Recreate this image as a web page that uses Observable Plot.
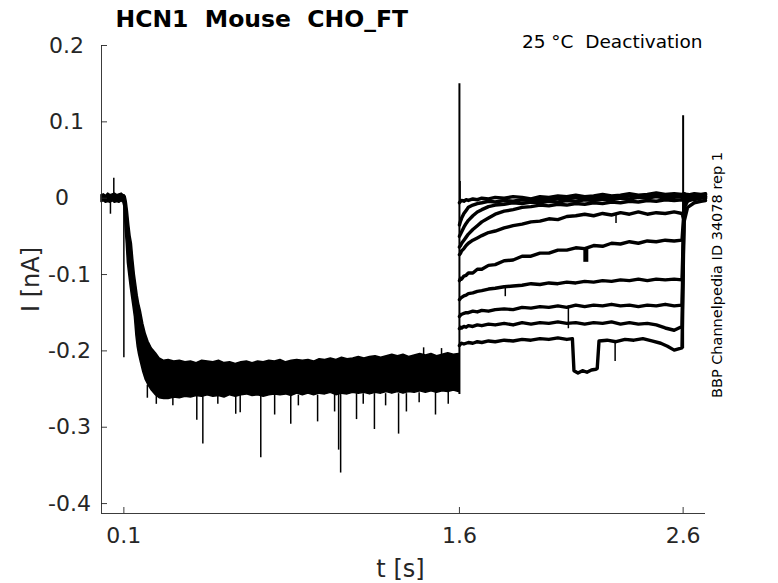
<!DOCTYPE html>
<html><head><meta charset="utf-8">
<script src="https://cdn.jsdelivr.net/npm/d3@7"></script>
<script src="https://cdn.jsdelivr.net/npm/@observablehq/plot@0.6"></script>
<style>body{margin:0;background:#fff}</style>
</head><body><div id="chart"></div>
<script>
// ---------- text ----------
const titleText = "HCN1  Mouse  CHO_FT";
const conditionText = "25 °C  Deactivation";
const idText = "BBP Channelpedia ID 34078 rep 1";
const xLabel = "t [s]";
const yLabel = "I [nA]";

// ---------- axes ----------
const xDomain = [0, 2.7];
const yDomain = [-0.413, 0.2];
const xTicks = [0.1, 1.6, 2.6];
const xTickLabels = ["0.1", "1.6", "2.6"];
const yTicks = [0.2, 0.1, 0, -0.1, -0.2, -0.3, -0.4];
const yTickLabels = ["0.2", "0.1", "0", "-0.1", "-0.2", "-0.3", "-0.4"];

// ---------- pre-pulse (all sweeps overlapping): envelope of the traces ----------
const prepT = [0.000,0.010,0.020,0.030,0.040,0.050,0.060,0.070,0.080,0.090,0.098,0.103,0.108,0.113,0.118,0.124,0.130,0.136,0.142,0.149,0.156,0.162,0.168,0.176,0.187,0.198,0.210,0.225,0.243,0.260,0.280,
  0.30,0.325,0.35,0.375,0.40,0.425,0.45,0.475,0.50,0.525,0.55,0.575,0.60,0.625,0.65,0.675,0.70,0.725,0.75,0.775,0.80,0.825,0.85,0.875,0.90,0.925,0.95,0.975,1.00,1.025,1.05,1.075,1.10,1.125,1.15,1.175,1.20,1.225,1.25,1.275,1.30,1.325,1.35,1.375,1.40,1.425,1.45,1.475,1.50,1.525,1.55,1.575,1.598];
const prepHi = [0.004,0.005,0.003,0.006,0.004,0.005,0.006,0.004,0.005,0.006,0.004,0.004,0.002,-0.005,-0.017,-0.035,-0.050,-0.060,-0.080,-0.100,-0.115,-0.128,-0.138,-0.148,-0.165,-0.178,-0.188,-0.197,-0.203,-0.210,-0.213,
  -0.212,-0.214,-0.213,-0.215,-0.214,-0.216,-0.213,-0.214,-0.215,-0.213,-0.216,-0.215,-0.217,-0.215,-0.214,-0.216,-0.214,-0.215,-0.213,-0.214,-0.212,-0.215,-0.213,-0.212,-0.213,-0.212,-0.214,-0.211,-0.212,-0.210,-0.212,-0.209,-0.211,-0.210,-0.208,-0.210,-0.208,-0.207,-0.209,-0.207,-0.205,-0.207,-0.205,-0.208,-0.206,-0.204,-0.206,-0.204,-0.207,-0.205,-0.203,-0.205,-0.204];
const prepLo = [-0.005,-0.004,-0.006,-0.005,-0.006,-0.004,-0.006,-0.005,-0.006,-0.004,-0.006,-0.012,-0.040,-0.060,-0.085,-0.100,-0.115,-0.128,-0.140,-0.155,-0.180,-0.195,-0.205,-0.215,-0.228,-0.238,-0.245,-0.252,-0.258,-0.262,-0.263,
  -0.263,-0.261,-0.262,-0.260,-0.261,-0.259,-0.260,-0.258,-0.260,-0.259,-0.261,-0.258,-0.260,-0.258,-0.257,-0.259,-0.258,-0.260,-0.258,-0.257,-0.258,-0.257,-0.259,-0.256,-0.258,-0.256,-0.258,-0.256,-0.257,-0.255,-0.258,-0.256,-0.257,-0.255,-0.256,-0.255,-0.257,-0.255,-0.256,-0.254,-0.256,-0.254,-0.256,-0.254,-0.255,-0.253,-0.255,-0.253,-0.255,-0.253,-0.254,-0.252,-0.254];

// ---------- deactivation sweeps ----------
const postT = [1.600,1.605,1.61,1.62,1.63,1.64,1.66,1.68,1.70,1.73,1.76,1.80,1.84,1.88,1.92,1.96,2.00,2.04,2.08,2.12,2.16,2.20,2.24,2.28,2.32,2.36,2.40,2.44,2.48,2.52,2.56,2.595,2.605,2.62,2.65,2.68,2.70];
const sweepA1 = [-0.006,-0.004,-0.003,-0.004,-0.002,-0.003,-0.001,-0.002,0.000,-0.001,0.001,0.000,0.002,0.001,-0.001,0.002,0.001,0.003,0.002,0.004,0.002,0.003,0.005,0.003,0.004,0.006,0.004,0.005,0.007,0.005,0.006,0.005,0.006,0.004,0.006,0.005,0.006];
const sweepA2 = [-0.035,-0.030,-0.026,-0.020,-0.016,-0.012,-0.009,-0.007,-0.006,-0.004,-0.005,-0.003,-0.004,-0.002,-0.003,-0.001,-0.002,0.000,-0.001,0.001,-0.001,0.000,0.002,0.000,0.001,0.003,0.001,0.002,0.004,0.002,0.003,0.004,0.003,0.005,0.003,0.004,0.005];
const sweepA3 = [-0.050,-0.047,-0.044,-0.038,-0.033,-0.029,-0.023,-0.018,-0.015,-0.011,-0.009,-0.008,-0.006,-0.007,-0.005,-0.006,-0.004,-0.005,-0.003,-0.004,-0.002,-0.003,-0.001,-0.002,0.000,-0.001,0.001,0.000,0.002,0.000,0.001,0.002,0.000,0.003,0.001,0.003,0.002];
const sweepA4 = [-0.064,-0.062,-0.059,-0.055,-0.051,-0.047,-0.041,-0.036,-0.031,-0.026,-0.021,-0.017,-0.015,-0.012,-0.011,-0.009,-0.010,-0.008,-0.009,-0.007,-0.008,-0.006,-0.007,-0.005,-0.006,-0.004,-0.005,-0.003,-0.004,-0.002,-0.003,-0.002,-0.004,0.000,-0.002,0.001,0.000];
const sweepB = [-0.074,-0.072,-0.069,-0.066,-0.062,-0.059,-0.055,-0.052,-0.049,-0.045,-0.043,-0.039,-0.036,-0.034,-0.031,-0.030,-0.027,-0.028,-0.024,-0.023,-0.021,-0.023,-0.020,-0.022,-0.019,-0.021,-0.018,-0.021,-0.019,-0.020,-0.018,-0.020,-0.030,-0.012,-0.006,-0.004,-0.003];
const sweepC = [-0.108,-0.105,-0.106,-0.102,-0.101,-0.098,-0.098,-0.093,-0.093,-0.088,-0.087,-0.082,-0.081,-0.076,-0.076,-0.072,-0.072,-0.068,-0.068,-0.065,-0.066,-0.062,-0.063,-0.059,-0.060,-0.057,-0.059,-0.056,-0.057,-0.055,-0.056,-0.055,-0.012,-0.004,-0.001,0.000,0.001];
const sweepD = [-0.133,-0.131,-0.130,-0.128,-0.127,-0.125,-0.124,-0.122,-0.121,-0.119,-0.118,-0.116,-0.115,-0.114,-0.112,-0.113,-0.111,-0.112,-0.110,-0.111,-0.109,-0.110,-0.108,-0.109,-0.107,-0.108,-0.106,-0.108,-0.106,-0.107,-0.106,-0.107,-0.008,-0.002,0.001,0.002,0.000];
const sweepE = [-0.155,-0.153,-0.152,-0.151,-0.150,-0.150,-0.148,-0.149,-0.147,-0.148,-0.146,-0.145,-0.146,-0.143,-0.144,-0.142,-0.143,-0.141,-0.143,-0.140,-0.142,-0.140,-0.141,-0.139,-0.141,-0.140,-0.142,-0.140,-0.141,-0.139,-0.141,-0.140,-0.006,0.000,0.003,0.001,0.003];
const sweepF = [-0.171,-0.169,-0.170,-0.168,-0.169,-0.167,-0.168,-0.166,-0.167,-0.165,-0.166,-0.164,-0.166,-0.163,-0.165,-0.163,-0.164,-0.162,-0.164,-0.163,-0.165,-0.163,-0.164,-0.162,-0.165,-0.163,-0.165,-0.164,-0.166,-0.170,-0.173,-0.168,-0.005,0.002,0.004,0.003,0.005];
const sweepGT = [1.600,1.605,1.61,1.62,1.64,1.66,1.68,1.70,1.73,1.76,1.80,1.84,1.88,1.92,1.96,2.00,2.04,2.08,2.105,2.112,2.13,2.15,2.17,2.19,2.21,2.216,2.224,2.26,2.30,2.34,2.38,2.42,2.46,2.50,2.53,2.56,2.595,2.605,2.62,2.65,2.68,2.70];
const sweepG = [-0.193,-0.191,-0.190,-0.191,-0.189,-0.190,-0.188,-0.189,-0.187,-0.188,-0.186,-0.187,-0.185,-0.186,-0.184,-0.185,-0.183,-0.185,-0.184,-0.226,-0.229,-0.226,-0.228,-0.225,-0.224,-0.223,-0.187,-0.186,-0.188,-0.185,-0.186,-0.184,-0.187,-0.190,-0.194,-0.199,-0.196,-0.010,-0.003,0.002,0.004,0.002];

// ---------- brief noise spikes / capacitive transients ----------
const spikeT    = [0.040, 0.055, 0.100, 0.205, 0.245, 0.319, 0.426, 0.453, 0.520, 0.600, 0.620, 0.712, 0.774, 0.846, 0.880, 0.966, 1.042, 1.060, 1.069, 1.140, 1.170, 1.220, 1.270, 1.328, 1.363, 1.420, 1.440, 1.493, 1.520, 1.550, 1.603, 1.805, 2.087, 2.296, 2.300];
const spikeFrom = [0.000, 0.003,-0.004,-0.245,-0.258,-0.258,-0.258,-0.258,-0.258,-0.258,-0.258,-0.258,-0.258,-0.258,-0.258,-0.258,-0.256,-0.256,-0.256,-0.256,-0.256,-0.256,-0.256,-0.256,-0.256,-0.255,-0.207,-0.254,-0.205,-0.254,-0.004,-0.116,-0.141,-0.188,-0.020];
const spikeTo   = [-0.021,0.026,-0.209,-0.262,-0.270,-0.272,-0.291,-0.322,-0.270,-0.283,-0.281,-0.340,-0.284,-0.296,-0.272,-0.293,-0.280,-0.330,-0.360,-0.290,-0.270,-0.303,-0.272,-0.309,-0.280,-0.268,-0.196,-0.284,-0.197,-0.270,0.022,-0.129,-0.171,-0.214,-0.033];
const transientT    = [1.600, 2.600];
const transientFrom = [-0.257, -0.197];
const transientTo   = [0.150, 0.108];
const dipT = [2.165];
const dipFrom = [-0.066];
const dipTo = [-0.084];

// ---------- build tables ----------
const prep = prepT.map((t, i) => ({t, hi: prepHi[i], lo: prepLo[i]}));
const sweeps = [
  ["A1", postT, sweepA1], ["A2", postT, sweepA2], ["A3", postT, sweepA3], ["A4", postT, sweepA4],
  ["B", postT, sweepB], ["C", postT, sweepC], ["D", postT, sweepD], ["E", postT, sweepE],
  ["F", postT, sweepF], ["G", sweepGT, sweepG]
];
const post = sweeps.flatMap(([name, ts, vs]) => ts.map((t, i) => ({sweep: name, t, v: vs[i]})));
const spikes = spikeT.map((t, i) => ({t, a: spikeFrom[i], b: spikeTo[i]}));
const transients = transientT.map((t, i) => ({t, a: transientFrom[i], b: transientTo[i]}));
const dips = dipT.map((t, i) => ({t, a: dipFrom[i], b: dipTo[i]}));

const W = 778, H = 583, mL = 101, mR = 73, mT = 45, mB = 70;
const tickPx = 6;
const xTickLen = tickPx * (xDomain[1] - xDomain[0]) / (W - mL - mR);
const yTickLen = tickPx * (yDomain[1] - yDomain[0]) / (H - mT - mB);
const axisColor = "#262626";

const chart = Plot.plot({
  width: W, height: H,
  marginLeft: mL, marginRight: mR, marginTop: mT, marginBottom: mB,
  x: {domain: xDomain, axis: null},
  y: {domain: yDomain, axis: null},
  style: {fontFamily: "DejaVu Sans", background: "white", overflow: "visible"},
  marks: [
    // traces
    Plot.areaY(prep, {x: "t", y1: "lo", y2: "hi", fill: "black", stroke: "black", strokeWidth: 1.5}),
    Plot.line(post, {x: "t", y: "v", z: "sweep", stroke: "black", strokeWidth: 3.4, strokeLinejoin: "round"}),
    Plot.ruleX(spikes, {x: "t", y1: "a", y2: "b", stroke: "black", strokeWidth: 1.5}),
    Plot.ruleX(transients, {x: "t", y1: "a", y2: "b", stroke: "black", strokeWidth: 2}),
    Plot.ruleX(dips, {x: "t", y1: "a", y2: "b", stroke: "black", strokeWidth: 5}),
    // axis lines
    Plot.ruleX([xDomain[0]], {y1: yDomain[0], y2: yDomain[1], stroke: axisColor, strokeWidth: 0.9}),
    Plot.ruleY([yDomain[0]], {x1: xDomain[0], x2: xDomain[1], stroke: axisColor, strokeWidth: 0.9}),
    // inward ticks
    Plot.ruleY(yTicks, {y: d => d, x1: xDomain[0], x2: xDomain[0] + xTickLen, stroke: axisColor, strokeWidth: 0.9}),
    Plot.ruleX(xTicks, {x: d => d, y1: yDomain[0], y2: yDomain[0] + yTickLen, stroke: axisColor, strokeWidth: 0.9}),
    // tick labels
    Plot.text(yTicks, {filter: d => d > 0, x: xDomain[0], y: d => d, text: d => yTickLabels[yTicks.indexOf(d)], dx: -35, textAnchor: "middle", lineAnchor: "middle", fontSize: 22, fill: axisColor}),
    Plot.text(yTicks, {filter: d => d === 0, x: xDomain[0], y: d => d, text: d => yTickLabels[yTicks.indexOf(d)], dx: -39.5, textAnchor: "middle", lineAnchor: "middle", fontSize: 22, fill: axisColor}),
    Plot.text(yTicks, {filter: d => d < 0, x: xDomain[0], y: d => d, text: d => yTickLabels[yTicks.indexOf(d)], dx: -32, textAnchor: "middle", lineAnchor: "middle", fontSize: 22, fill: axisColor}),
    Plot.text(xTicks, {x: d => d, y: yDomain[0], text: d => xTickLabels[xTicks.indexOf(d)], dy: 29, textAnchor: "middle", lineAnchor: "bottom", fontSize: 22, fill: axisColor}),
    // axis labels
    Plot.text([xLabel], {frameAnchor: "bottom", text: d => d, dx: -3, dy: 63, textAnchor: "middle", lineAnchor: "bottom", fontSize: 24, fill: axisColor}),
    Plot.text([yLabel], {frameAnchor: "left", text: d => d, rotate: -90, dx: -63, dy: 0, textAnchor: "middle", lineAnchor: "bottom", fontSize: 24, fill: axisColor}),
    // title and annotations
    Plot.text([titleText], {frameAnchor: "top-left", text: d => d, dx: 14, dy: -19, textAnchor: "start", lineAnchor: "bottom", fontSize: 23.5, fontWeight: "bold", fill: "black"}),
    Plot.text([conditionText], {frameAnchor: "top-right", text: d => d, dx: -3, dy: 2, textAnchor: "end", lineAnchor: "bottom", fontSize: 18.5, fill: "black"}),
    Plot.text([idText], {frameAnchor: "right", text: d => d, rotate: -90, dx: 16, dy: -4.5, textAnchor: "middle", lineAnchor: "bottom", fontSize: 14.5, fill: "black"})
  ]
});
document.getElementById("chart").appendChild(chart);
</script>
</body></html>
